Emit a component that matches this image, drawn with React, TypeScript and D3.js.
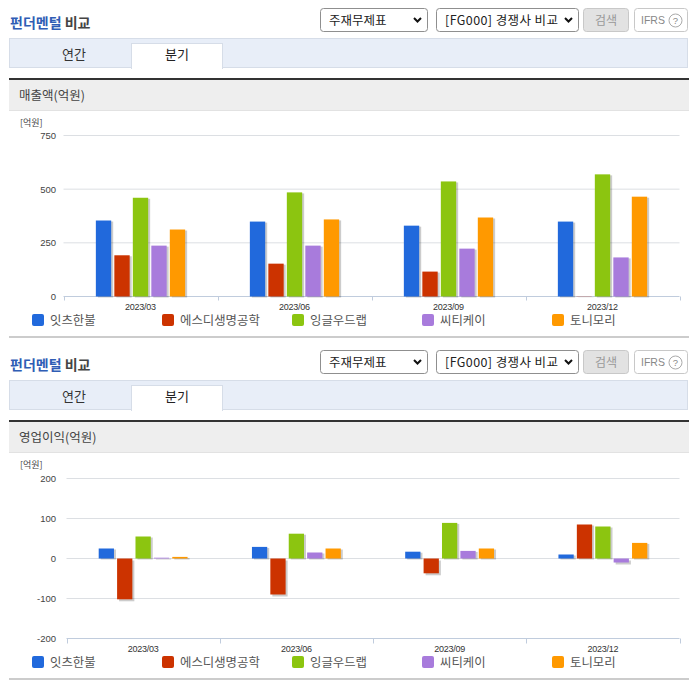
import React from "react";
import * as d3 from "d3";

const periods = ["2023/03", "2023/06", "2023/09", "2023/12"];
const companies = ["잇츠한불", "에스디생명공학", "잉글우드랩", "씨티케이", "토니모리"];
const colors = ["#2169DC", "#CC3300", "#8CC510", "#A87BDC", "#FF9900"];
const legendX = [32, 162, 292, 422, 552];

const revenueA = [354, 349, 330, 349];
const revenueB = [192, 153, 116, 1];
const revenueC = [460, 485, 536, 569];
const revenueD = [237, 237, 223, 182];
const revenueE = [312, 359, 368, 465];

const profitA = [25, 29, 17, 10];
const profitB = [-102, -90, -37, 85];
const profitC = [55, 62, 89, 80];
const profitD = [2, 15, 19, -10];
const profitE = [4, 25, 25, 39];

const revenueTicks = [0, 250, 500, 750];
const profitTicks = [-200, -100, 0, 100, 200];

const KR = "'Noto Sans CJK KR', sans-serif";
const LAT = "'Liberation Sans', Arial, sans-serif";

function Select({ x, w, label, spacing }: { x: number; w: number; label: string; spacing: number }) {
  const ax = x + w - 9.5;
  return (
    <g>
      <rect x={x + 0.5} y={8.5} width={w} height={23} rx={3} fill="#fff" stroke="#8f8f8f" />
      <text x={x + 9} y={25} fontSize={12.5} letterSpacing={spacing} fontFamily={KR} fill="#222">{label}</text>
      <path d={`M${ax - 3.5} 18 L${ax} 21.5 L${ax + 3.5} 18`} fill="none" stroke="#111" strokeWidth={2} />
    </g>
  );
}

function Panel(props: {
  top: number; title: string; series: number[][]; domain: [number, number]; ticks: number[];
  left: number; yTop: number; yBottom: number; tickLen: number;
}) {
  const { top, title, series, domain, ticks, left, yTop, yBottom, tickLen } = props;
  const right = 679.5;
  const y = d3.scaleLinear().domain(domain).range([yBottom, yTop]);
  const x0 = d3.scaleBand<string>().domain(periods).range([left, right]);
  const x1 = d3.scaleBand<string>().domain(companies).range([0, x0.bandwidth()]).paddingInner(0.17).paddingOuter(1.75);
  const edges = periods.map((p) => x0(p)!).concat([right]);
  return (
    <g>
      <text x={10} y={top + 28} fontSize={14} fontWeight={700} fontFamily={KR} fill="#2F5DB5">
        펀더멘털 <tspan fill="#444">비교</tspan>
      </text>
      <g transform={`translate(0,${top})`}>
        <Select x={320} w={107} label="주재무제표" spacing={0} />
        <Select x={436} w={142} label="[FG000] 경쟁사 비교" spacing={0.4} />
        <rect x={583.5} y={8.5} width={45} height={23} rx={3} fill="#e2e2e2" stroke="#c8c8c8" />
        <text x={606} y={24.5} fontSize={12} textAnchor="middle" fontFamily={KR} fill="#999">검색</text>
        <rect x={634.5} y={8.5} width={53} height={23} rx={3} fill="#fff" stroke="#c8c8c8" />
        <text x={641} y={24} fontSize={10.5} fontFamily={LAT} fill="#888">IFRS</text>
        <circle cx={675.5} cy={20.5} r={6.5} fill="none" stroke="#aaa" />
        <text x={675.5} y={24} fontSize={9.5} textAnchor="middle" fontFamily={LAT} fill="#888">?</text>

        <rect x={9.5} y={38.5} width={678} height={29} fill="#E8EEF8" stroke="#d6dde8" />
        <rect x={131.5} y={43.5} width={91} height={25} fill="#fff" stroke="#d6dde8" />
        <rect x={132} y={66} width={90} height={3} fill="#fff" />
        <text x={74} y={59} fontSize={13} textAnchor="middle" fontFamily={KR} fill="#333">연간</text>
        <text x={177} y={59} fontSize={13} textAnchor="middle" fontFamily={KR} fill="#222">분기</text>

        <rect x={9} y={78} width={680} height={2} fill="#333" />
        <rect x={9} y={80} width={680} height={30} fill="#EEEEEE" />
        <rect x={9} y={110} width={680} height={1} fill="#e2e2e2" />
        <text x={19} y={100} fontSize={12.5} fontFamily={KR} fill="#444">{title}</text>
        <text x={20} y={126} fontSize={9} fontFamily={KR} fill="#444">[억원]</text>
      </g>

      {ticks.map((t) => (
        <g key={t}>
          {t !== domain[0] && <line x1={left} x2={right} y1={y(t)} y2={y(t)} stroke="#DCDFE3" />}
          <text x={56} y={y(t) + 3.5} fontSize={9.5} textAnchor="end" fontFamily={LAT} fill="#444">{t}</text>
        </g>
      ))}

      <line x1={left} x2={right} y1={yBottom} y2={yBottom} stroke="#C0CCDD" />
      {edges.map((e) => (
        <line key={e} x1={Math.round(e) + 0.5} x2={Math.round(e) + 0.5} y1={yBottom} y2={yBottom + tickLen} stroke="#C0CCDD" />
      ))}
      {periods.map((p) => (
        <text key={p} x={x0(p)! + x0.bandwidth() / 2} y={yBottom + 13.5} fontSize={9} letterSpacing={-0.25} textAnchor="middle" fontFamily={LAT} fill="#333">{p}</text>
      ))}

      {companies.map((c, si) =>
        periods.map((p, pi) => {
          const v = series[si][pi];
          const bx = x0(p)! + x1(c)!;
          const by = Math.min(y(0), y(v));
          const h = Math.abs(y(v) - y(0));
          return (
            <g key={c + p}>
              <rect x={bx + 2} y={by + (v < 0 ? 2 : 1)} width={x1.bandwidth()} height={h} fill="#000" opacity={0.2} />
              <rect x={bx} y={by} width={x1.bandwidth()} height={h} fill={colors[si]} />
            </g>
          );
        })
      )}

      {companies.map((c, i) => (
        <g key={c}>
          <rect x={legendX[i]} y={top + 314} width={12} height={12} rx={2} fill={colors[i]} />
          <text x={legendX[i] + 18} y={top + 324.5} fontSize={12.4} fontFamily={KR} fill="#555">{c}</text>
        </g>
      ))}
      <rect x={9} y={top + 336} width={680} height={2} fill="#ccc" />
    </g>
  );
}

export default function App() {
  return (
    <svg width={696} height={684} style={{ position: "absolute", left: 0, top: 0, background: "#fff" }}>
      <Panel top={0} title="매출액(억원)" series={[revenueA, revenueB, revenueC, revenueD, revenueE]}
        domain={[0, 750]} ticks={revenueTicks} left={63.5} yTop={135.5} yBottom={296.5} tickLen={4} />
      <Panel top={342} title="영업이익(억원)" series={[profitA, profitB, profitC, profitD, profitE]}
        domain={[-200, 200]} ticks={profitTicks} left={66.5} yTop={478.5} yBottom={638.5} tickLen={5} />
    </svg>
  );
}
